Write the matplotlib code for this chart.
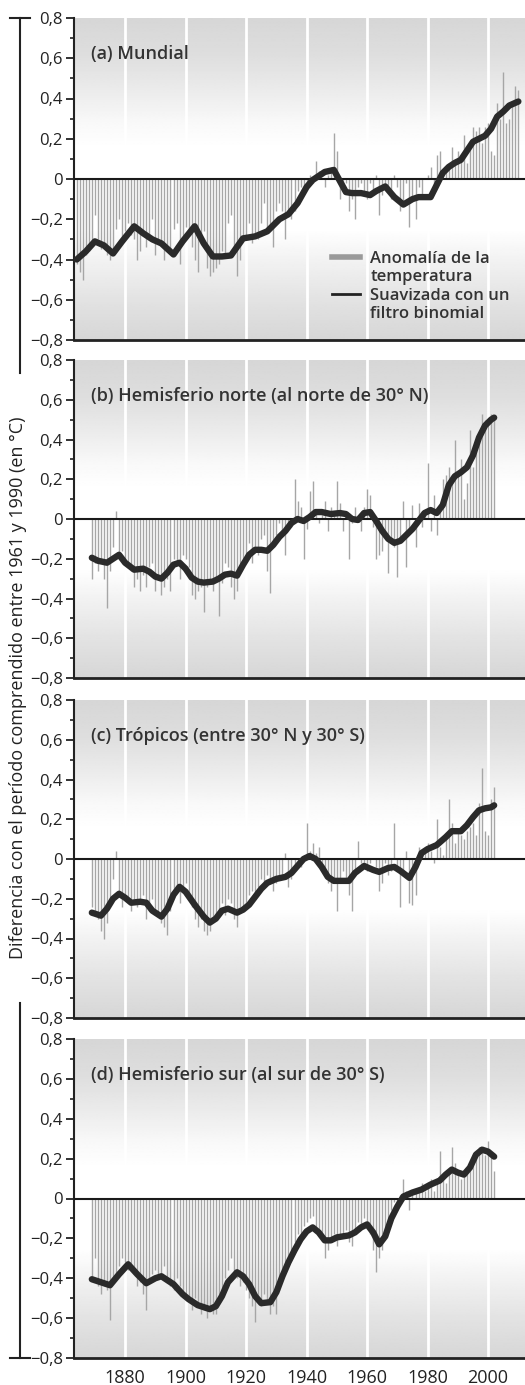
import numpy as np
import matplotlib.pyplot as plt
from matplotlib.lines import Line2D

plt.rcParams['font.family'] = ['Open Sans', 'DejaVu Sans']

# ---- data ----
panel_titles = ['(a) Mundial',
                '(b) Hemisferio norte (al norte de 30° N)',
                '(c) Trópicos (entre 30° N y 30° S)',
                '(d) Hemisferio sur (al sur de 30° S)']

ytick_vals = [-0.8, -0.6, -0.4, -0.2, 0, 0.2, 0.4, 0.6, 0.8]
ytick_labels = ['\u22120,8', '\u22120,6', '\u22120,4', '\u22120,2', '0', '0,2', '0,4', '0,6', '0,8']
xtick_vals = [1880, 1900, 1920, 1940, 1960, 1980, 2000]
ylabel = 'Diferencia con el período comprendido entre 1961 y 1990 (en °C)'
legend_labels = ['Anomalía de la', 'temperatura', 'Suavizada con un', 'filtro binomial']

# (a) Mundial, annual anomalies 1864-2010
years_a = list(range(1864, 2011))
anom_a = [-0.42, -0.46, -0.50, -0.38, -0.36, -0.33,
          -0.18, -0.30, -0.35, -0.34, -0.38, -0.40, -0.36, -0.25, -0.20, -0.32,
          -0.26, -0.22, -0.28, -0.30, -0.40, -0.36, -0.28, -0.34, -0.28, -0.20,
          -0.38, -0.30, -0.32, -0.40, -0.36, -0.35, -0.25, -0.22, -0.42, -0.30,
          -0.24, -0.26, -0.34, -0.40, -0.46, -0.32, -0.26, -0.44, -0.48, -0.46,
          -0.44, -0.42, -0.36, -0.38, -0.22, -0.18, -0.34, -0.48, -0.40, -0.30,
          -0.30, -0.22, -0.32, -0.28, -0.30, -0.22, -0.12, -0.26, -0.24, -0.34,
          -0.16, -0.12, -0.16, -0.30, -0.18, -0.20, -0.16, -0.06, -0.04, -0.06,
          -0.04, 0.02, -0.02, 0.09, 0.04, 0.00, -0.04, 0.02, 0.06, 0.23,
          0.14, -0.10, -0.06, -0.02, -0.16, -0.10, -0.20, -0.04, -0.02, -0.06,
          -0.10, -0.02, -0.08, 0.02, -0.18, -0.08, -0.04, -0.04, -0.10, 0.02,
          -0.04, -0.16, -0.12, -0.02, -0.24, -0.10, -0.20, -0.04, -0.08, 0.00,
          0.02, 0.06, -0.04, 0.12, 0.14, 0.00, 0.04, 0.08, 0.16, 0.10,
          0.14, 0.12, 0.22, 0.08, 0.16, 0.26, 0.24, 0.26, 0.18, 0.26,
          0.28, 0.14, 0.12, 0.38, 0.30, 0.53, 0.28, 0.30, 0.38, 0.46, 0.44]
smooth_years_a = [1864, 1867, 1870, 1873, 1876, 1879, 1883, 1886, 1889, 1892, 1896, 1899,
                  1903, 1906, 1909, 1912, 1915, 1919, 1923, 1927, 1931, 1934, 1937, 1940,
                  1942, 1944, 1946, 1949, 1951, 1953, 1955, 1958, 1961, 1963, 1966, 1969,
                  1972, 1975, 1977, 1979, 1981, 1983, 1985, 1987, 1989, 1991, 1993, 1995,
                  1997, 1999, 2001, 2003, 2005, 2007, 2010]
smooth_a = [-0.40, -0.36, -0.31, -0.33, -0.37, -0.31, -0.235, -0.27, -0.30, -0.32, -0.375, -0.31,
            -0.235, -0.32, -0.385, -0.385, -0.38, -0.295, -0.285, -0.26, -0.20, -0.175, -0.12, -0.04,
            -0.005, 0.015, 0.035, 0.045, -0.01, -0.065, -0.07, -0.07, -0.08, -0.06, -0.037, -0.09,
            -0.127, -0.10, -0.09, -0.09, -0.09, -0.03, 0.03, 0.06, 0.08, 0.095, 0.14, 0.185,
            0.20, 0.215, 0.25, 0.31, 0.335, 0.365, 0.385]

# (b) Hemisferio norte, 1869-2002
years_b = list(range(1869, 2003))
anom_b = [-0.30,
          -0.22, -0.26, -0.20, -0.30, -0.45, -0.26, -0.14, 0.04, -0.18, -0.16,
          -0.20, -0.22, -0.26, -0.34, -0.30, -0.36, -0.28, -0.34, -0.24, -0.22,
          -0.36, -0.28, -0.38, -0.34, -0.30, -0.36, -0.20, -0.22, -0.30, -0.18,
          -0.20, -0.24, -0.38, -0.40, -0.36, -0.34, -0.47, -0.34, -0.30, -0.36,
          -0.30, -0.49, -0.32, -0.22, -0.24, -0.34, -0.40, -0.36, -0.26, -0.20,
          -0.18, -0.12, -0.22, -0.16, -0.18, -0.10, -0.08, -0.26, -0.37, -0.12,
          -0.08, -0.02, -0.06, -0.18, -0.04, -0.04, 0.20, 0.09, 0.06, -0.20,
          -0.05, 0.14, 0.19, 0.04, -0.02, 0.02, 0.09, -0.06, 0.06, 0.03,
          0.19, 0.08, -0.06, 0.02, -0.20, -0.02, 0.06, 0.02, -0.06, 0.06,
          0.15, 0.12, -0.04, -0.20, -0.18, -0.16, -0.06, -0.27, -0.12, -0.14,
          -0.29, -0.12, 0.09, -0.24, -0.06, 0.07, -0.14, 0.08, -0.04, 0.04,
          0.28, -0.06, 0.12, -0.08, 0.04, 0.20, 0.22, 0.26, 0.22, 0.40,
          0.24, 0.30, 0.10, 0.18, 0.45, 0.26, 0.34, 0.40, 0.53, 0.50,
          0.48, 0.53, 0.50]
smooth_years_b = [1869, 1871, 1874, 1876, 1878, 1880, 1883, 1886, 1888, 1890, 1892, 1894,
                  1896, 1898, 1900, 1902, 1904, 1906, 1909, 1911, 1913, 1915, 1917, 1919,
                  1921, 1923, 1925, 1927, 1929, 1931, 1933, 1935, 1937, 1939, 1941, 1943,
                  1945, 1948, 1951, 1953, 1955, 1957, 1959, 1961, 1963, 1965, 1967, 1969,
                  1971, 1973, 1975, 1977, 1979, 1981, 1983, 1985, 1987, 1989, 1991, 1993,
                  1995, 1997, 1999, 2001, 2002]
smooth_b = [-0.195, -0.21, -0.22, -0.20, -0.18, -0.22, -0.255, -0.25, -0.265, -0.29, -0.30, -0.27,
            -0.23, -0.22, -0.25, -0.295, -0.315, -0.32, -0.315, -0.30, -0.28, -0.275, -0.285, -0.23,
            -0.18, -0.155, -0.155, -0.16, -0.13, -0.09, -0.06, -0.02, 0.0, -0.01, 0.01, 0.035,
            0.035, 0.025, 0.03, 0.025, 0.0, -0.005, 0.03, 0.035, -0.01, -0.06, -0.10, -0.12,
            -0.11, -0.08, -0.05, -0.01, 0.03, 0.045, 0.03, 0.07, 0.17, 0.215, 0.235, 0.26,
            0.32, 0.41, 0.47, 0.50, 0.51]

# (c) Trópicos, 1869-2002
years_c = list(range(1869, 2003))
anom_c = [-0.24,
          -0.28, -0.30, -0.36, -0.40, -0.32, -0.20, -0.10, 0.04, -0.16, -0.24,
          -0.20, -0.22, -0.26, -0.20, -0.24, -0.20, -0.18, -0.30, -0.26, -0.20,
          -0.28, -0.26, -0.32, -0.34, -0.38, -0.26, -0.16, -0.14, -0.22, -0.16,
          -0.12, -0.18, -0.24, -0.30, -0.34, -0.30, -0.36, -0.38, -0.36, -0.30,
          -0.28, -0.26, -0.22, -0.28, -0.20, -0.22, -0.30, -0.34, -0.24, -0.26,
          -0.24, -0.18, -0.16, -0.20, -0.14, -0.10, -0.14, -0.08, -0.12, -0.16,
          -0.12, -0.10, -0.08, 0.03, -0.14, -0.10, -0.06, -0.02, -0.04, 0.02,
          0.18, 0.04, 0.08, 0.03, 0.06, -0.04, -0.08, -0.12, -0.16, -0.10,
          -0.26, -0.10, -0.06, -0.12, -0.18, -0.26, -0.08, 0.09, -0.02, -0.04,
          -0.06, -0.02, 0.00, -0.04, -0.16, -0.12, -0.02, -0.08, -0.06, 0.18,
          -0.04, -0.24, -0.08, 0.04, -0.22, -0.23, -0.18, 0.06, 0.04, 0.06,
          0.08, 0.04, -0.02, 0.20, 0.06, 0.02, 0.10, 0.30, 0.18, 0.08,
          0.14, 0.12, 0.10, 0.14, 0.16, 0.18, 0.12, 0.28, 0.46, 0.14,
          0.12, 0.30, 0.36]
smooth_years_c = [1869, 1872, 1874, 1876, 1878, 1880, 1882, 1885, 1887, 1889, 1892, 1894,
                  1896, 1898, 1900, 1903, 1906, 1908, 1910, 1912, 1914, 1917, 1919, 1921,
                  1923, 1925, 1927, 1930, 1933, 1935, 1937, 1939, 1941, 1943, 1945, 1947,
                  1949, 1952, 1954, 1956, 1959, 1962, 1964, 1967, 1969, 1971, 1974, 1976,
                  1978, 1980, 1983, 1986, 1988, 1991, 1993, 1995, 1997, 1999, 2001, 2002]
smooth_c = [-0.27, -0.285, -0.25, -0.20, -0.175, -0.195, -0.22, -0.215, -0.22, -0.26, -0.29, -0.25,
            -0.18, -0.14, -0.165, -0.23, -0.29, -0.32, -0.30, -0.26, -0.25, -0.27, -0.255, -0.23,
            -0.19, -0.15, -0.12, -0.10, -0.09, -0.07, -0.035, 0.0, 0.015, 0.0, -0.04, -0.09,
            -0.11, -0.11, -0.11, -0.07, -0.035, -0.055, -0.065, -0.045, -0.04, -0.06, -0.095, -0.04,
            0.03, 0.05, 0.07, 0.11, 0.14, 0.14, 0.17, 0.21, 0.245, 0.255, 0.26, 0.27]

# (d) Hemisferio sur, 1869-2002
years_d = list(range(1869, 2003))
anom_d = [-0.40,
          -0.30, -0.44, -0.48, -0.44, -0.46, -0.61, -0.42, -0.40, -0.34, -0.30,
          -0.32, -0.36, -0.34, -0.38, -0.44, -0.42, -0.48, -0.56, -0.40, -0.38,
          -0.36, -0.38, -0.40, -0.34, -0.42, -0.44, -0.46, -0.40, -0.44, -0.50,
          -0.48, -0.52, -0.56, -0.50, -0.54, -0.58, -0.56, -0.60, -0.54, -0.58,
          -0.58, -0.52, -0.46, -0.40, -0.36, -0.30, -0.38, -0.40, -0.44, -0.42,
          -0.46, -0.50, -0.54, -0.62, -0.50, -0.54, -0.48, -0.52, -0.58, -0.54,
          -0.58, -0.46, -0.40, -0.36, -0.32, -0.28, -0.22, -0.18, -0.20, -0.14,
          -0.12, -0.10, -0.09, -0.16, -0.18, -0.20, -0.30, -0.26, -0.22, -0.18,
          -0.24, -0.18, -0.20, -0.16, -0.22, -0.24, -0.18, -0.12, -0.14, -0.10,
          -0.14, -0.18, -0.26, -0.37, -0.30, -0.26, -0.20, -0.14, -0.06, -0.02,
          -0.04, 0.02, 0.10, 0.04, -0.06, 0.02, 0.04, 0.06, 0.08, 0.04,
          0.06, 0.10, 0.04, 0.08, 0.24, 0.12, 0.08, 0.14, 0.26, 0.18,
          0.14, 0.10, 0.12, 0.16, 0.18, 0.20, 0.22, 0.26, 0.24, 0.22,
          0.29, 0.22, 0.14]
smooth_years_d = [1869, 1872, 1875, 1878, 1881, 1884, 1887, 1890, 1892, 1894, 1896, 1899,
                  1901, 1904, 1906, 1908, 1910, 1912, 1914, 1917, 1919, 1921, 1923, 1925,
                  1928, 1930, 1932, 1934, 1936, 1938, 1940, 1942, 1944, 1946, 1948, 1950,
                  1952, 1954, 1956, 1958, 1960, 1962, 1964, 1966, 1968, 1970, 1972, 1975,
                  1978, 1981, 1984, 1986, 1988, 1990, 1992, 1994, 1996, 1998, 2000, 2002]
smooth_d = [-0.405, -0.42, -0.435, -0.38, -0.33, -0.38, -0.425, -0.40, -0.39, -0.41, -0.43, -0.48,
            -0.505, -0.535, -0.545, -0.555, -0.54, -0.49, -0.42, -0.37, -0.39, -0.43, -0.49, -0.525,
            -0.52, -0.47, -0.39, -0.32, -0.26, -0.205, -0.165, -0.145, -0.17, -0.21, -0.21, -0.195,
            -0.19, -0.185, -0.17, -0.145, -0.13, -0.17, -0.23, -0.19, -0.10, -0.04, 0.01, 0.03,
            0.045, 0.07, 0.09, 0.12, 0.145, 0.13, 0.12, 0.155, 0.22, 0.245, 0.235, 0.21]

panels = [(years_a, anom_a, smooth_years_a, smooth_a),
          (years_b, anom_b, smooth_years_b, smooth_b),
          (years_c, anom_c, smooth_years_c, smooth_c),
          (years_d, anom_d, smooth_years_d, smooth_d)]

# ---- layout ----
W, H = 525, 1385
fig = plt.figure(figsize=(W / 100, H / 100), dpi=100)
tops = [18, 360, 700, 1039]
bottoms = [340, 678, 1018, 1358]
left = 74
fs = 13

# background gradient (grey top, white middle, grey bottom)
gy = np.linspace(-0.8, 0.8, 300)
shade = np.interp(gy, [-0.8, -0.6, -0.4, -0.25, 0.15, 0.28, 0.45, 0.62, 0.8],
                  [0.84, 0.89, 0.95, 1.0, 1.0, 0.975, 0.92, 0.87, 0.84])
grad = shade[::-1].reshape(-1, 1)

axes = []
for i, (yrs, an, syrs, sm) in enumerate(panels):
    ax = fig.add_axes([left / W, 1 - bottoms[i] / H, 1 - left / W, (bottoms[i] - tops[i]) / H])
    axes.append(ax)
    ax.imshow(grad, extent=[0, 1, 0, 1], transform=ax.transAxes, aspect='auto',
              cmap='gray', vmin=0, vmax=1, zorder=0, interpolation='bilinear')
    for xv in xtick_vals:
        ax.axvline(xv, color='white', lw=2.0, zorder=1)
    ax.vlines(yrs, 0, an, color='#a6a6a6', lw=1.0, zorder=2)
    ax.axhline(0, color='#1a1a1a', lw=1.5, zorder=3)
    ax.plot(syrs, sm, color='#2a2a2a', lw=4.6, solid_capstyle='round',
            solid_joinstyle='round', zorder=4)
    ax.set_xlim(1863.1, 2012.2)
    ax.set_ylim(-0.8, 0.8)
    ax.set_yticks(ytick_vals)
    ax.set_yticklabels(ytick_labels, fontsize=12, color='#222222')
    ax.set_yticks(np.arange(-0.7, 0.8, 0.2), minor=True)
    ax.tick_params(axis='y', which='major', length=6, width=1.3, pad=2, color='#222222')
    ax.tick_params(axis='y', which='minor', length=3, width=1.2, color='#222222')
    ax.set_xticks(xtick_vals)
    ax.tick_params(axis='x', length=0, pad=8, labelsize=fs, labelcolor='#222222')
    if i < 3:
        ax.set_xticklabels([])
    for s in ['top', 'right']:
        ax.spines[s].set_visible(False)
    ax.spines['left'].set_linewidth(1.5)
    ax.spines['left'].set_color('#222222')
    ax.spines['bottom'].set_linewidth(2.0)
    ax.spines['bottom'].set_color('#222222')
    ax.text(0.038, 0.8875, panel_titles[i], transform=ax.transAxes, fontsize=fs,
            fontweight='semibold', color='#333333', va='center', ha='left', zorder=5)

# legend in panel (a)
handles = [Line2D([], [], color='#9a9a9a', lw=4),
           Line2D([], [], color='none'),
           Line2D([], [], color='#222222', lw=2),
           Line2D([], [], color='none')]
leg = axes[0].legend(handles, legend_labels, loc='upper left', bbox_to_anchor=(0.572, 0.277),
                     frameon=False, handlelength=1.7, handletextpad=0.6,
                     labelspacing=0.15, borderpad=0, borderaxespad=0,
                     prop={'weight': 'semibold', 'size': 12})
for t in leg.get_texts():
    t.set_color('#333333')

# y label and bracket
fig.text(18 / W, 1 - 688 / H, ylabel, rotation=90, ha='center', va='center',
         fontsize=fs, color='#222222')
fig.add_artist(Line2D([20 / W, 20 / W], [1 - 18 / H, 1 - 373 / H], color='#222222', lw=1.5))
fig.add_artist(Line2D([10 / W, 30 / W], [1 - 18 / H, 1 - 18 / H], color='#222222', lw=1.5))
fig.add_artist(Line2D([20 / W, 20 / W], [1 - 1003 / H, 1 - 1358 / H], color='#222222', lw=1.5))
fig.add_artist(Line2D([10 / W, 30 / W], [1 - 1358 / H, 1 - 1358 / H], color='#222222', lw=1.5))

fig.savefig('out.png', dpi=100)
